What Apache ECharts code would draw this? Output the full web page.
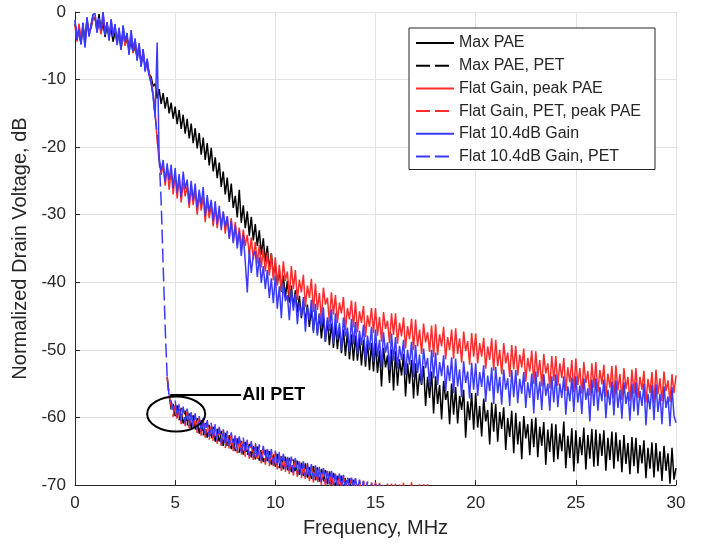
<!DOCTYPE html>
<html>
<head>
<meta charset="utf-8">
<script src="https://cdn.jsdelivr.net/npm/echarts@6/dist/echarts.min.js"></script>
<style>
  html, body { margin: 0; background: #fff; }
  #chart { width: 702px; height: 546px; }
</style>
</head>
<body>
<div id="chart"></div>
<script>
// 采样间隔 (MHz)，实线都从 0 MHz 起按 0.1 MHz 一个点
const STEP = 0.1;

// 图例名称
const names = ['Max PAE', 'Max PAE, PET', 'Flat Gain, peak PAE', 'Flat Gain, PET, peak PAE', 'Flat 10.4dB Gain', 'Flat 10.4dB Gain, PET'];

// Max PAE (黑色实线)，0 - 30 MHz
const maxPae = [
  -1.8, -3.5, -2.9, -4.6, -2.1, -4.0, -1.1, -3.0, -2.4, -0.9,
  -1.0, -2.4, -0.3, -3.0, -1.6, -3.7, -2.0, -3.2, -2.5, -4.4,
  -2.9, -4.2, -3.4, -5.5, -3.0, -4.8, -3.9, -5.3, -4.5, -6.0,
  -5.0, -6.6, -5.4, -7.5, -6.2, -7.9, -7.8, -9.3, -9.6, -11.0,
  -10.6, -12.8, -11.4, -13.6, -12.0, -14.3, -12.6, -15.0, -13.4, -15.8,
  -14.0, -16.6, -14.5, -17.3, -15.2, -18.0, -15.8, -18.7, -16.5, -19.4,
  -17.2, -20.2, -17.9, -21.1, -18.6, -21.9, -19.4, -22.7, -20.1, -23.6,
  -21.5, -24.6, -22.3, -25.9, -23.6, -27.0, -24.5, -28.1, -25.4, -29.0,
  -27.2, -30.4, -26.3, -31.2, -28.6, -32.0, -29.5, -33.1, -30.3, -33.8,
  -31.4, -34.6, -32.3, -35.9, -33.5, -37.0, -34.6, -38.2, -35.7, -39.0,
  -37.2, -40.3, -38.1, -41.4, -39.0, -42.2, -39.8, -43.0, -40.5, -43.7,
  -41.2, -44.5, -42.0, -45.3, -42.8, -46.0, -43.3, -46.6, -43.9, -47.2,
  -44.1, -47.6, -44.7, -48.3, -45.2, -48.8, -45.6, -49.3, -46.1, -49.7,
  -46.2, -49.9, -46.6, -50.5, -47.0, -50.9, -47.3, -51.4, -47.7, -51.6,
  -47.9, -51.6, -48.2, -52.3, -48.5, -52.5, -48.8, -53.0, -49.0, -53.2,
  -49.0, -53.4, -50.1, -55.4, -49.7, -52.6, -50.8, -54.9, -49.9, -56.0,
  -50.2, -55.3, -51.4, -53.8, -50.6, -56.9, -52.0, -55.0, -51.5, -57.2,
  -52.0, -56.8, -53.5, -55.2, -52.4, -58.3, -54.0, -57.1, -53.2, -59.4,
  -53.9, -58.0, -55.2, -60.3, -54.6, -57.4, -56.1, -61.0, -55.0, -59.6,
  -55.5, -60.9, -56.8, -58.9, -55.9, -63.0, -57.6, -60.4, -56.4, -61.8,
  -56.4, -61.5, -58.3, -62.8, -57.2, -60.6, -58.9, -64.0, -57.8, -62.1,
  -58.0, -63.6, -59.2, -61.7, -58.5, -64.8, -60.1, -62.9, -59.0, -65.3,
  -59.3, -64.0, -60.6, -66.2, -59.8, -63.1, -61.0, -65.6, -60.2, -64.4,
  -60.0, -65.9, -61.4, -64.2, -60.7, -67.0, -61.8, -65.1, -60.9, -66.6,
  -61.0, -66.2, -62.4, -65.0, -60.6, -67.5, -62.7, -66.0, -61.6, -68.0,
  -61.9, -66.8, -62.9, -65.6, -61.5, -67.7, -62.6, -66.1, -61.7, -67.3,
  -61.8, -67.2, -62.4, -65.7, -61.9, -67.9, -63.0, -66.3, -62.1, -67.6,
  -62.2, -66.5, -63.3, -68.1, -62.6, -66.9, -63.8, -68.4, -62.9, -67.2,
  -63.0, -68.3, -64.1, -66.8, -63.4, -69.0, -64.5, -67.6, -63.7, -68.9,
  -63.8, -68.0, -65.0, -69.4, -64.2, -67.9, -65.3, -69.8, -64.5, -69.2,
  -67.5
];

// Flat Gain, peak PAE (红色实线)，0 - 30 MHz
const flatGain = [
  -2.0, -4.4, -1.7, -3.9, -2.6, -4.7, -1.3, -3.3, -2.2, -1.0,
  -0.7, -2.9, -1.4, -3.3, -0.5, -2.6, -1.8, -3.9, -1.5, -3.2,
  -2.4, -4.6, -2.8, -5.2, -2.6, -5.0, -3.4, -5.9, -3.3, -6.1,
  -4.3, -6.8, -5.0, -7.7, -5.9, -8.5, -7.2, -9.0, -10.1, -12.0,
  -14.8, -19.0, -22.0, -24.1, -22.6, -25.7, -23.0, -26.3, -23.4, -27.0,
  -24.0, -27.6, -24.5, -28.2, -25.1, -27.3, -25.7, -29.0, -26.0, -28.6,
  -26.4, -30.0, -27.0, -29.4, -27.2, -31.1, -27.9, -30.5, -28.5, -31.7,
  -28.8, -32.0, -29.4, -31.5, -29.6, -32.8, -30.3, -33.4, -30.5, -34.0,
  -31.1, -34.3, -31.9, -35.0, -32.2, -34.6, -33.0, -36.0, -33.4, -36.6,
  -34.0, -37.2, -34.5, -37.8, -35.1, -38.4, -35.6, -39.0, -35.8, -39.7,
  -36.3, -40.5, -37.4, -41.3, -36.9, -39.8, -38.4, -42.2, -37.6, -41.0,
  -38.2, -42.6, -39.6, -41.5, -38.9, -43.7, -40.5, -42.3, -39.5, -44.4,
  -40.2, -44.1, -41.6, -45.6, -40.8, -43.3, -42.3, -45.9, -41.5, -44.8,
  -41.9, -46.0, -43.0, -44.6, -42.2, -47.1, -43.8, -45.5, -42.7, -46.7,
  -42.9, -47.4, -44.3, -46.0, -43.5, -48.1, -44.9, -46.6, -43.8, -47.5,
  -43.8, -47.9, -45.1, -48.8, -44.4, -46.9, -45.7, -49.0, -44.6, -47.8,
  -44.6, -49.1, -46.0, -48.0, -45.2, -49.8, -46.5, -48.4, -45.4, -50.0,
  -45.5, -49.5, -47.0, -50.6, -46.1, -48.9, -47.4, -50.3, -46.4, -51.1,
  -46.2, -50.8, -47.7, -49.5, -46.6, -51.4, -48.1, -50.0, -47.0, -51.3,
  -46.8, -50.6, -48.3, -51.9, -47.3, -50.2, -48.7, -52.2, -47.5, -51.0,
  -47.6, -52.0, -49.0, -51.0, -48.2, -52.8, -49.5, -51.5, -48.3, -53.1,
  -48.5, -52.4, -50.0, -53.6, -49.0, -52.0, -50.4, -54.0, -49.3, -52.9,
  -49.4, -53.8, -50.7, -52.6, -49.8, -54.7, -51.2, -53.2, -50.1, -55.0,
  -50.2, -54.0, -51.5, -55.4, -50.6, -53.5, -52.0, -55.7, -50.9, -54.6,
  -50.9, -55.3, -52.0, -54.2, -51.2, -56.1, -52.6, -54.8, -51.5, -56.3,
  -51.3, -55.2, -52.7, -56.5, -51.8, -54.9, -53.1, -56.8, -52.0, -55.6,
  -51.8, -56.3, -53.0, -55.1, -52.2, -57.0, -53.5, -55.6, -52.4, -57.2,
  -52.3, -56.0, -53.6, -57.4, -52.7, -55.8, -54.0, -57.6, -52.9, -56.5,
  -52.7, -57.1, -54.0, -55.9, -53.1, -57.8, -54.3, -56.4, -53.3, -57.9,
  -52.9, -56.6, -54.2, -57.6, -53.2, -56.1, -54.5, -57.7, -53.6, -56.4,
  -53.8
];

// Flat 10.4dB Gain (蓝色实线)，0 - 30 MHz
const flat104 = [
  -1.2, -4.1, -2.5, -4.8, -1.6, -5.3, -0.8, -3.6, -1.9, -0.4,
  -0.2, -3.1, -0.9, -2.7, 0.0, -3.4, -1.5, -4.2, -1.1, -3.6,
  -1.8, -4.9, -2.3, -5.6, -2.0, -4.4, -3.1, -6.3, -2.7, -5.8,
  -3.9, -7.2, -4.6, -8.1, -5.5, -8.8, -6.9, -9.4, -10.5, -12.5,
  -15.5, -4.5, -21.5, -23.6, -21.9, -25.2, -22.4, -24.9, -22.6, -26.1,
  -23.1, -26.8, -24.0, -27.4, -23.6, -26.2, -24.8, -28.3, -25.0, -27.9,
  -25.4, -29.1, -26.3, -28.5, -25.9, -30.2, -27.1, -29.6, -27.8, -31.0,
  -28.0, -31.4, -28.7, -32.3, -29.5, -31.8, -30.2, -33.6, -30.9, -34.2,
  -31.6, -35.0, -32.4, -36.1, -33.0, -37.0, -41.5, -35.2, -38.6, -36.0,
  -35.4, -39.2, -36.3, -40.1, -37.6, -41.0, -38.2, -42.3, -39.4, -43.1,
  -39.0, -43.9, -40.6, -45.3, -40.2, -42.8, -41.9, -45.6, -41.1, -44.2,
  -41.7, -46.2, -43.0, -45.0, -42.2, -47.3, -43.7, -45.6, -42.6, -47.5,
  -43.2, -47.9, -44.6, -46.6, -43.7, -48.8, -45.2, -47.2, -44.0, -49.1,
  -44.6, -48.5, -46.0, -50.1, -45.2, -48.0, -46.7, -50.3, -45.4, -49.2,
  -45.9, -50.6, -47.2, -49.3, -46.3, -51.6, -47.9, -50.0, -46.6, -51.8,
  -47.0, -51.0, -48.5, -52.6, -47.4, -50.4, -48.9, -52.9, -47.6, -51.6,
  -48.1, -52.8, -49.4, -51.5, -48.5, -53.7, -50.0, -52.2, -48.8, -54.0,
  -49.3, -53.4, -50.7, -55.0, -49.8, -52.7, -51.2, -55.4, -50.0, -54.2,
  -50.4, -55.2, -51.8, -53.9, -50.8, -56.2, -52.3, -54.6, -51.1, -56.4,
  -51.3, -55.4, -52.9, -57.0, -51.7, -54.9, -53.2, -57.2, -51.9, -55.9,
  -52.0, -56.8, -53.3, -55.5, -52.3, -57.7, -53.8, -56.1, -52.6, -58.0,
  -52.5, -56.4, -54.0, -58.1, -52.9, -55.9, -54.2, -58.3, -53.0, -57.0,
  -53.0, -57.9, -54.3, -56.5, -53.3, -58.6, -54.8, -57.1, -53.5, -59.4,
  -53.2, -57.4, -54.7, -58.9, -53.6, -56.8, -55.0, -59.0, -53.9, -57.8,
  -53.6, -58.5, -55.0, -57.1, -53.9, -59.6, -55.4, -57.6, -54.1, -59.2,
  -53.9, -57.8, -55.3, -59.5, -54.2, -57.4, -55.7, -60.6, -54.4, -58.3,
  -54.2, -59.0, -55.5, -57.6, -54.4, -60.1, -55.9, -58.2, -54.7, -59.7,
  -54.5, -58.6, -55.9, -60.2, -54.8, -58.0, -56.2, -60.5, -55.0, -59.1,
  -54.8, -59.7, -56.1, -58.3, -55.0, -61.2, -56.5, -58.8, -55.2, -60.4,
  -55.1, -59.2, -56.5, -61.0, -55.4, -58.6, -56.9, -61.3, -55.5, -59.8,
  -60.8
];

// PET 曲线在 4 MHz 以下与蓝色实线重合，4.1 - 4.6 MHz 为陡降段
const petDrop = [-18.0, -21.5, -28.0, -37.5, -46.5, -54.0];

// PET 曲线 4.7 MHz 之后的部分
const maxPaePetTail = [
  -56.7, -58.8, -58.0,
  -59.8, -58.2, -60.4, -58.6, -60.9, -59.0, -61.2, -59.4, -61.6, -59.7,
  -62.0, -60.1, -62.4, -60.4, -62.7, -60.8, -63.0, -61.1, -63.3, -61.4,
  -63.6, -61.7, -63.9, -62.0, -64.2, -62.3, -64.4, -62.6, -64.7, -62.8,
  -65.0, -63.1, -65.2, -63.4, -65.5, -63.6, -65.7, -63.9, -65.9, -64.1,
  -66.2, -64.3, -66.4, -64.6, -66.6, -64.8, -66.8, -65.0, -67.0, -65.2,
  -67.3, -65.4, -67.5, -65.6, -67.7, -65.8, -67.9, -66.0, -68.1, -66.2,
  -68.3, -66.4, -68.5, -66.6, -68.7, -66.8, -68.9, -67.0, -69.1, -67.2,
  -69.3, -67.4, -69.5, -67.6, -69.7, -67.8, -69.9, -68.0, -70.1, -68.2,
  -70.3, -68.4, -70.5, -68.6, -70.7, -68.8, -70.9, -69.0, -71.0, -69.2
];
const flatGainPetTail = [
  -56.9, -58.2, -59.9,
  -57.8, -60.5, -58.3, -61.0, -58.6, -61.3, -59.0, -61.6, -59.3, -61.9,
  -59.7, -62.3, -60.0, -62.7, -60.3, -63.0, -60.7, -63.3, -61.0, -63.6,
  -61.3, -63.9, -61.6, -64.2, -61.9, -64.5, -62.2, -64.7, -62.5, -65.0,
  -62.7, -65.3, -63.0, -65.6, -63.3, -65.8, -63.5, -66.1, -63.8, -66.3,
  -64.0, -66.5, -64.2, -66.8, -64.5, -67.0, -64.7, -67.2, -64.9, -67.4,
  -65.1, -67.7, -65.4, -67.9, -65.6, -68.1, -65.8, -68.4, -66.0, -68.6,
  -66.2, -68.8, -66.5, -69.0, -66.7, -69.2, -66.9, -69.4, -67.1, -69.6,
  -67.3, -69.8, -67.5, -70.0, -67.7, -70.1, -67.9, -70.3, -68.1, -70.4,
  -68.3, -70.6, -68.5, -70.7, -68.7, -70.8, -68.9, -70.9, -69.0, -71.0,
  -69.1, -71.1, -69.3, -71.2, -69.4, -71.3, -69.5, -71.3, -69.6, -71.4,
  -69.6, -71.4, -69.7, -71.5, -69.7, -71.5, -69.8, -71.6, -69.8, -71.6,
  -69.8, -71.7, -69.9, -71.7, -69.7, -71.8, -69.9, -71.8, -69.6, -71.9,
  -69.8, -71.9, -69.9, -72.0, -69.7, -72.0, -69.9, -72.1, -70.2
];
const flat104PetTail = [
  -56.8, -57.6, -58.9,
  -57.5, -60.1, -58.0, -60.6, -58.4, -60.9, -58.7, -61.2, -59.1, -61.5,
  -59.4, -61.9, -59.8, -62.3, -60.1, -62.6, -60.4, -62.9, -60.8, -63.2,
  -61.0, -63.5, -61.4, -63.8, -61.7, -64.1, -62.0, -64.3, -62.2, -64.6,
  -62.5, -64.9, -62.8, -65.2, -63.0, -65.4, -63.3, -65.7, -63.5, -65.9,
  -63.7, -66.1, -64.0, -66.4, -64.2, -66.6, -64.4, -66.8, -64.7, -67.0,
  -64.9, -67.3, -65.1, -67.5, -65.4, -67.7, -65.6, -68.0, -65.8, -68.2,
  -66.0, -68.4, -66.3, -68.6, -66.5, -68.8, -66.7, -69.0, -66.9, -69.2,
  -67.1, -69.4, -67.3, -69.6, -67.5, -69.7, -67.7, -69.9, -67.9, -70.1,
  -68.1, -70.2, -68.3, -70.3, -68.5, -70.4, -68.7, -70.5, -68.9, -70.6,
  -69.0, -70.7, -69.2, -70.8, -69.4, -70.9, -69.5, -71.0, -69.7, -71.1,
  -69.8, -71.2, -69.9, -71.3, -70.0
];

// 坐标轴刻度
const xTicks = [0, 5, 10, 15, 20, 25, 30];
const yTicks = [-70, -60, -50, -40, -30, -20, -10, 0];

// 颜色
const colors = ['#000000', '#000000', '#ff2a2a', '#ff2a2a', '#3a3aff', '#3a3aff'];
const textColor = '#262626';
const font = "'Liberation Sans', Arial, sans-serif";

// 值数组 -> [频率, 值]，f0 为起始频率
const toPairs = (vals, f0) => vals.map((v, i) => [Math.round((f0 + i * STEP) * 10) / 10, v]);

// 蓝色 PET 曲线 = 0-4 MHz 与蓝色实线相同 + 陡降 + 尾部
// 黑、红 PET 曲线在 4.6 MHz 以前被蓝色完全盖住，从陡降底部开始画
const petHead = flat104.slice(0, 41).concat(petDrop);
const petLast = petDrop.slice(-1);
const seriesData = [
  toPairs(maxPae, 0),
  toPairs(petLast.concat(maxPaePetTail), 4.6),
  toPairs(flatGain, 0),
  toPairs(petLast.concat(flatGainPetTail), 4.6),
  toPairs(flat104, 0),
  toPairs(petHead.concat(flat104PetTail), 0)
];

const chart = echarts.init(document.getElementById('chart'));

chart.setOption({
  animation: false,
  backgroundColor: '#fff',
  textStyle: { fontFamily: font },
  grid: { left: 75, right: 26, top: 12, bottom: 61 },
  legend: {
    data: names,
    orient: 'vertical',
    left: 409,
    top: 28,
    padding: [7, 14, 5, 6],
    itemWidth: 38,
    itemHeight: 16,
    itemGap: 6.7,
    borderColor: textColor,
    borderWidth: 1,
    borderRadius: 0,
    backgroundColor: '#fff',
    itemStyle: { opacity: 0 },
    textStyle: { fontSize: 16, color: textColor, fontFamily: font }
  },
  xAxis: {
    type: 'value',
    min: xTicks[0],
    max: xTicks[xTicks.length - 1],
    interval: 5,
    name: 'Frequency, MHz',
    nameLocation: 'middle',
    nameGap: 33,
    nameTextStyle: { fontSize: 20, color: textColor },
    axisLine: { onZero: false, lineStyle: { color: textColor } },
    axisTick: { inside: true, length: 5, lineStyle: { color: textColor } },
    axisLabel: { fontSize: 17, color: textColor, margin: 10 },
    splitLine: { lineStyle: { color: '#e3e3e3' } }
  },
  yAxis: {
    type: 'value',
    min: yTicks[0],
    max: yTicks[yTicks.length - 1],
    interval: 10,
    name: 'Normalized Drain Voltage, dB',
    nameLocation: 'middle',
    nameGap: 42,
    nameTextStyle: { fontSize: 20, color: textColor },
    axisLine: { show: true, onZero: false, lineStyle: { color: textColor } },
    axisTick: { show: true, inside: true, length: 5, lineStyle: { color: textColor } },
    axisLabel: { fontSize: 17, color: textColor, margin: 9 },
    splitLine: { lineStyle: { color: '#e3e3e3' } }
  },
  series: seriesData.map((data, i) => ({
    name: names[i],
    type: 'line',
    data: data,
    symbol: 'none',
    clip: true,
    color: colors[i],
    lineStyle: { width: 1.5, color: colors[i], type: i % 2 ? [14, 5] : 'solid' }
  }))
});

// "All PET" 标注：椭圆 + 引线 + 文字
const c = chart.convertToPixel({ gridIndex: 0 }, [5.05, -59.5]);
chart.setOption({
  graphic: [
    {
      type: 'ellipse',
      shape: { cx: c[0], cy: c[1], rx: 29, ry: 17.5 },
      style: { fill: 'none', stroke: '#000', lineWidth: 2 },
      z: 100
    },
    {
      type: 'line',
      shape: { x1: c[0] - 6, y1: c[1] - 19, x2: c[0] + 65, y2: c[1] - 19 },
      style: { stroke: '#000', lineWidth: 2 },
      z: 100
    },
    {
      type: 'text',
      x: c[0] + 66,
      y: c[1] - 19,
      style: {
        text: 'All PET',
        font: "bold 18px 'Liberation Sans', Arial, sans-serif",
        fill: '#000',
        verticalAlign: 'middle'
      },
      z: 100
    }
  ]
});
</script>
</body>
</html>
